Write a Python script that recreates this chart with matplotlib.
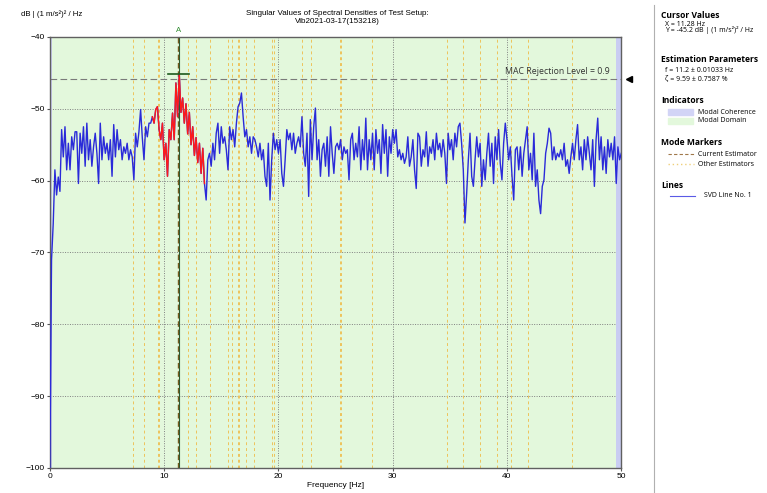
"""Singular values of spectral densities (SVD line) with mode estimator markers."""
import numpy as np
import matplotlib
matplotlib.use("Agg")
import matplotlib.pyplot as plt
from matplotlib.patches import Rectangle
from matplotlib.lines import Line2D

plt.rcParams["font.family"] = ["Liberation Sans", "DejaVu Sans"]

# frequency grid of the spectral density (uniform resolution, 0..50 Hz)
freq = np.linspace(0, 50, 341)

# SVD line no. 1, dB | (1 m/s^2)^2 / Hz
svd_db = [
    -100.0, -71.0, -66.0, -58.5, -62.0, -59.5, -61.5, -52.9, -56.7, -52.5,
    -58.5, -54.8, -58.5, -53.9, -55.7, -53.2, -53.2, -60.4, -53.4, -56.2,
    -52.5, -58.0, -52.0, -57.1, -54.3, -58.0, -55.3, -53.4, -56.2, -60.4,
    -52.0, -57.1, -53.9, -56.2, -54.8, -57.1, -54.3, -59.4, -52.2, -56.7,
    -52.9, -55.7, -54.3, -57.1, -55.3, -56.2, -54.8, -57.1, -55.7, -56.7,
    -59.9, -53.4, -55.3, -53.2, -50.1, -54.0, -57.1, -52.5, -53.9, -52.0,
    -52.0, -51.1, -52.0, -50.1, -49.7, -52.9, -54.3, -52.0, -57.1, -54.8,
    -59.4, -52.9, -54.3, -50.6, -54.3, -46.4, -51.1, -45.2, -50.5, -48.5,
    -52.0, -49.3, -53.5, -50.5, -55.0, -52.5, -56.5, -54.0, -57.5, -54.8,
    -59.0, -55.5, -60.4, -62.7, -57.1, -56.2, -58.0, -54.8, -57.1, -53.4,
    -52.0, -56.2, -52.5, -54.8, -53.9, -55.7, -58.5, -52.5, -54.3, -52.9,
    -55.3, -52.0, -49.7, -49.2, -47.8, -51.1, -53.9, -52.9, -55.3, -53.9,
    -56.2, -53.9, -54.3, -55.3, -56.7, -54.8, -57.1, -55.7, -59.4, -60.8,
    -54.8, -62.7, -57.1, -53.4, -55.7, -54.3, -56.2, -54.3, -59.0, -60.8,
    -57.1, -52.9, -54.3, -53.4, -55.7, -53.4, -56.2, -54.8, -53.9, -55.3,
    -51.1, -56.2, -58.0, -53.4, -62.2, -51.5, -57.1, -52.5, -49.9, -57.1,
    -54.3, -59.4, -55.7, -54.8, -58.0, -53.9, -59.4, -52.5, -56.2, -59.0,
    -55.3, -54.8, -55.7, -54.3, -57.1, -55.3, -56.2, -55.7, -59.9, -54.3,
    -53.4, -57.1, -54.8, -56.7, -52.5, -58.5, -54.3, -57.1, -51.3, -58.5,
    -54.3, -57.1, -53.4, -58.5, -52.9, -56.2, -54.3, -59.0, -52.2, -56.2,
    -52.9, -59.4, -53.9, -56.2, -52.9, -54.8, -52.9, -56.7, -55.7, -57.1,
    -56.2, -57.6, -56.7, -53.9, -58.0, -56.7, -54.3, -58.5, -61.1, -53.4,
    -53.9, -58.0, -55.7, -56.7, -53.2, -58.0, -55.3, -56.2, -54.3, -57.1,
    -53.4, -55.7, -54.8, -56.7, -54.3, -56.2, -60.4, -53.4, -55.7, -54.3,
    -57.1, -53.4, -55.3, -52.5, -52.0, -54.8, -58.5, -65.9, -61.8, -57.1,
    -53.4, -59.4, -60.8, -57.1, -53.9, -56.7, -54.8, -60.8, -57.1, -59.9,
    -56.2, -53.4, -58.0, -54.8, -60.4, -53.9, -57.1, -52.9, -57.6, -59.9,
    -54.8, -52.0, -54.3, -57.1, -55.3, -59.4, -62.7, -55.7, -55.3, -58.5,
    -55.3, -59.4, -56.2, -54.3, -52.5, -58.5, -56.2, -59.9, -53.4, -60.8,
    -58.5, -62.7, -64.6, -60.8, -59.9, -56.2, -54.8, -52.7, -53.4, -57.1,
    -55.3, -57.1, -56.2, -56.7, -55.7, -57.1, -54.8, -58.0, -57.1, -59.0,
    -56.7, -54.8, -57.1, -54.3, -52.2, -57.1, -55.3, -58.5, -54.3, -57.1,
    -53.9, -56.2, -58.5, -54.3, -60.8, -54.3, -51.3, -57.1, -53.9, -58.5,
    -55.3, -59.0, -54.3, -56.7, -54.8, -57.1, -53.9, -60.4, -55.3, -57.1,
    -56.2,
]

# modal domain of the selected mode (drawn red)
mode_band = (8.9, 13.6)

# other estimators (orange dashed markers), Hz
other_est = [7.28, 8.25, 9.43, 9.54, 12.12, 12.77, 13.99, 15.57, 15.96, 16.43,
             16.57, 17.14, 17.86, 19.40, 19.58, 22.02, 22.81, 25.39, 25.50, 28.19,
             34.72, 36.15, 37.66, 39.09, 40.38, 41.82, 45.69]
current_est = 11.2
cursor_x, cursor_y = 11.28, -45.2
mac_level = -45.8

fig = plt.figure(figsize=(7.67, 4.93), dpi=100)
ax = fig.add_axes([0.065, 0.051, 0.745, 0.874])

ax.set_facecolor("#e3f8dc")
ax.axvspan(0, 0.2, color="#c9cdf2", lw=0)
ax.axvspan(49.55, 50, color="#c9cdf2", lw=0)

for f in other_est:
    ax.axvline(f, color="#eec35a", lw=0.7, ls=(0, (3, 3)), zorder=1)
ax.axvline(current_est, color="#7a5c1e", lw=1.0, ls=(0, (4, 2)), zorder=2)
ax.axvline(cursor_x, color="#2f5a2f", lw=0.8, zorder=2)

ax.grid(True, color="#808080", ls=(0, (1, 1.5)), lw=0.7)
ax.set_axisbelow(True)

svd = np.array(svd_db)
ax.plot(freq, svd, color="#2a2ad9", lw=1.0, zorder=3)
m = (freq >= mode_band[0]) & (freq <= mode_band[1])
ax.plot(freq[m], svd[m], color="#ff1a1a", lw=1.0, zorder=4)

# MAC rejection level
ax.axhline(mac_level, color="#7a7a7a", lw=0.8, ls=(0, (6, 3)), zorder=2)
ax.text(49.0, mac_level + 0.3, "MAC Rejection Level = 0.9", ha="right", va="bottom",
        fontsize=6.3, color="#333333", family=["Open Sans", "DejaVu Sans"])
ax.plot([50.7], [mac_level], marker="<", color="black", ms=5, clip_on=False)

# cursor cross
ax.plot([10.3, 12.2], [cursor_y, cursor_y], color="#1d5a1d", lw=1.2, zorder=5)
ax.text(cursor_x, -39.6, "A", color="#2e8b2e", fontsize=5.5, ha="center", va="bottom")

ax.set_xlim(0, 50)
ax.set_ylim(-100, -40)
ax.set_xticks([0, 10, 20, 30, 40, 50])
ax.set_yticks([-100, -90, -80, -70, -60, -50, -40])
ax.tick_params(labelsize=6, length=2, pad=1.5, color="#555555")
for s in ax.spines.values():
    s.set_color("#606060")
    s.set_linewidth(1.0)
ax.set_xlabel("Frequency [Hz]", fontsize=6, labelpad=2)

fig.text(21 / 767, 1 - 14 / 493, "dB | (1 m/s²)² / Hz", fontsize=5.6, va="center", ha="left")
fig.text(337 / 767, 1 - 10 / 493, "Singular Values of Spectral Densities of Test Setup:\nVib2021-03-17(153218)",
         fontsize=5.8, ha="center", va="top", linespacing=1.15)

# right-hand info panel
fig.add_artist(Line2D([654 / 767, 654 / 767], [0.0, 0.99], color="#b0b0b0", lw=0.8))


def py(y):
    return 1 - y / 493


def px(x):
    return x / 767


side = ["Open Sans", "DejaVu Sans"]
heads = [("Cursor Values", 15.7), ("Estimation Parameters", 59), ("Indicators", 100.7),
         ("Mode Markers", 142.7), ("Lines", 185.7)]
for t, y in heads:
    fig.text(px(661), py(y), t, fontsize=6.1, fontweight="bold", va="center", family=side)
info = [("X = 11.28 Hz", 24.5), ("Y = -45.2 dB | (1 m/s²)² / Hz", 30.5),
        ("f = 11.2 ± 0.01033 Hz", 70.7), ("ζ = 9.59 ± 0.7587 %", 79)]
for t, y in info:
    fig.text(px(665), py(y), t, fontsize=5, va="center", family=side)

fig.add_artist(Rectangle((px(668), py(115)), px(25), 6 / 493, color="#d2d4f6", transform=fig.transFigure))
fig.add_artist(Rectangle((px(668), py(123.5)), px(25), 6 / 493, color="#e3f8dc", transform=fig.transFigure))
fig.text(px(698), py(112.3), "Modal Coherence", fontsize=5, va="center", family=side)
fig.text(px(698), py(120.7), "Modal Domain", fontsize=5, va="center", family=side)

fig.add_artist(Line2D([px(668), px(694)], [py(154.3)] * 2, color="#a0784a", lw=0.8, ls=(0, (3, 2))))
fig.add_artist(Line2D([px(668), px(694)], [py(164)] * 2, color="#efcf7a", lw=1.0, ls=(0, (1, 2))))
fig.text(px(698), py(154.3), "Current Estimator", fontsize=5, va="center", family=side)
fig.text(px(698), py(164), "Other Estimators", fontsize=5, va="center", family=side)

fig.add_artist(Line2D([px(670), px(695)], [py(195.7)] * 2, color="#5a5ae6", lw=0.8))
fig.text(px(704), py(195.7), "SVD Line No. 1", fontsize=5, va="center", family=side)

fig.savefig("out.png", dpi=100)
